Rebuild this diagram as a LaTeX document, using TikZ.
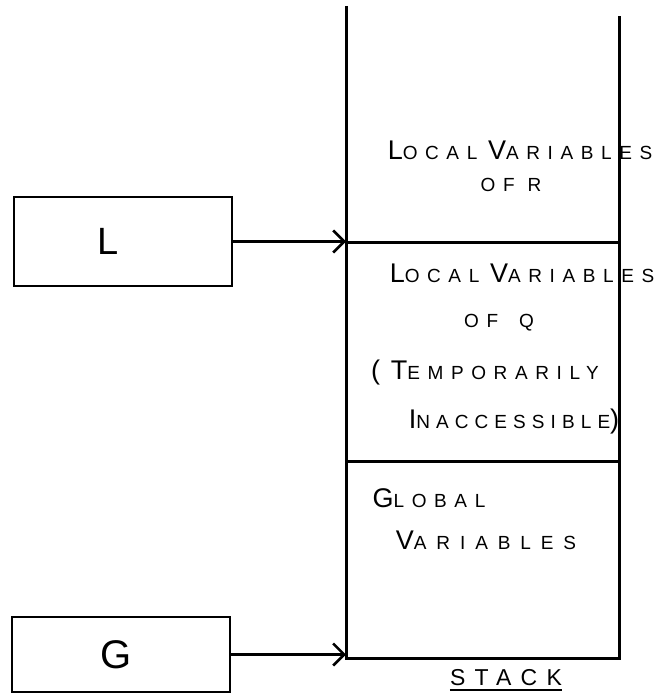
\documentclass[tikz,border=0pt]{standalone}
\usepackage{fontspec}
\setmainfont{Liberation Sans}
\newfontfamily\hand[LetterSpace=40]{Liberation Sans}
\newfontfamily\handwide[LetterSpace=52]{Liberation Sans}
\newfontfamily\handnarrow[LetterSpace=32]{Liberation Sans}
\usetikzlibrary{arrows.meta}
\newcommand\Bg[1]{{\fontsize{27}{27}\selectfont #1}}
\newcommand\Sm[1]{{\fontsize{19}{19}\selectfont #1}}
\begin{document}
\begin{tikzpicture}[x=1pt,y=-1pt,
  lbl/.style={font=\hand, inner sep=0pt},
  regbox/.style={draw, line width=2.4pt, minimum width=218pt, inner sep=0pt},
  stackline/.style={line width=3pt},
  ptr/.style={line width=2.4pt, -{Straight Barb[length=11pt,width=22pt,line width=2.6pt]}}]
\useasboundingbox (0,0) rectangle (662,698);
% stack frame
\coordinate (tl) at (346,6);
\coordinate (tr) at (619,16);
\coordinate (m1l) at (346,242);
\coordinate (m1r) at (619,242);
\coordinate (m2l) at (346,461);
\coordinate (m2r) at (619,461);
\coordinate (bl) at (346,658);
\coordinate (br) at (619,658);
\draw[stackline] (tl) -- (bl) -- (br) -- (tr);
\draw[stackline] (m1l) -- (m1r);
\draw[stackline] (m2l) -- (m2r);
% registers
\node[regbox, minimum height=89pt] (L) at (123,241.5) {\hand\fontsize{38}{38}\selectfont L\hspace*{30pt}};
\node[regbox, minimum height=75pt] (G) at (121,654.5) {\hand\fontsize{40}{40}\selectfont G\hspace*{10pt}};
\draw[ptr] (L.east) -- (L.east -| m1l);
\draw[ptr] (G.east) -- (G.east -| bl);
% labels
\node[lbl] (t1) at (520,150) {\Bg{L}\Sm{OCAL}\hspace{4pt} \Bg{V}\Sm{ARIABLES}};
\node[lbl] (t2) at (511,185) {\Sm{OF R}};
\node[lbl] (t3) at (522,273) {\Bg{L}\Sm{OCAL}\hspace{4pt} \Bg{V}\Sm{ARIABLES}};
\node[lbl] (t4) at (499,323) {\Sm{OF\hspace{8pt} Q}};
\node[lbl] (t5) at (485,373) {\Bg{(}\Bg{T}\Sm{EMPORARILY}};
\node[lbl, font=\handnarrow] (t6) at (514,422) {\Bg{I}\Sm{NACCESSIBLE}\Bg{)}};
\node[lbl] (t7) at (429,498) {\Bg{G}\Sm{LOBAL}};
\node[lbl, font=\handwide] (t8) at (486,540) {\Bg{V}\Sm{ARIABLES}};
\node[lbl] (stk) at (506,678) {\fontsize{23}{23}\selectfont STACK};
\draw[line width=2.2pt] ([yshift=-4pt]stk.south west) -- ([yshift=-4pt]stk.south east);
\end{tikzpicture}
\end{document}
